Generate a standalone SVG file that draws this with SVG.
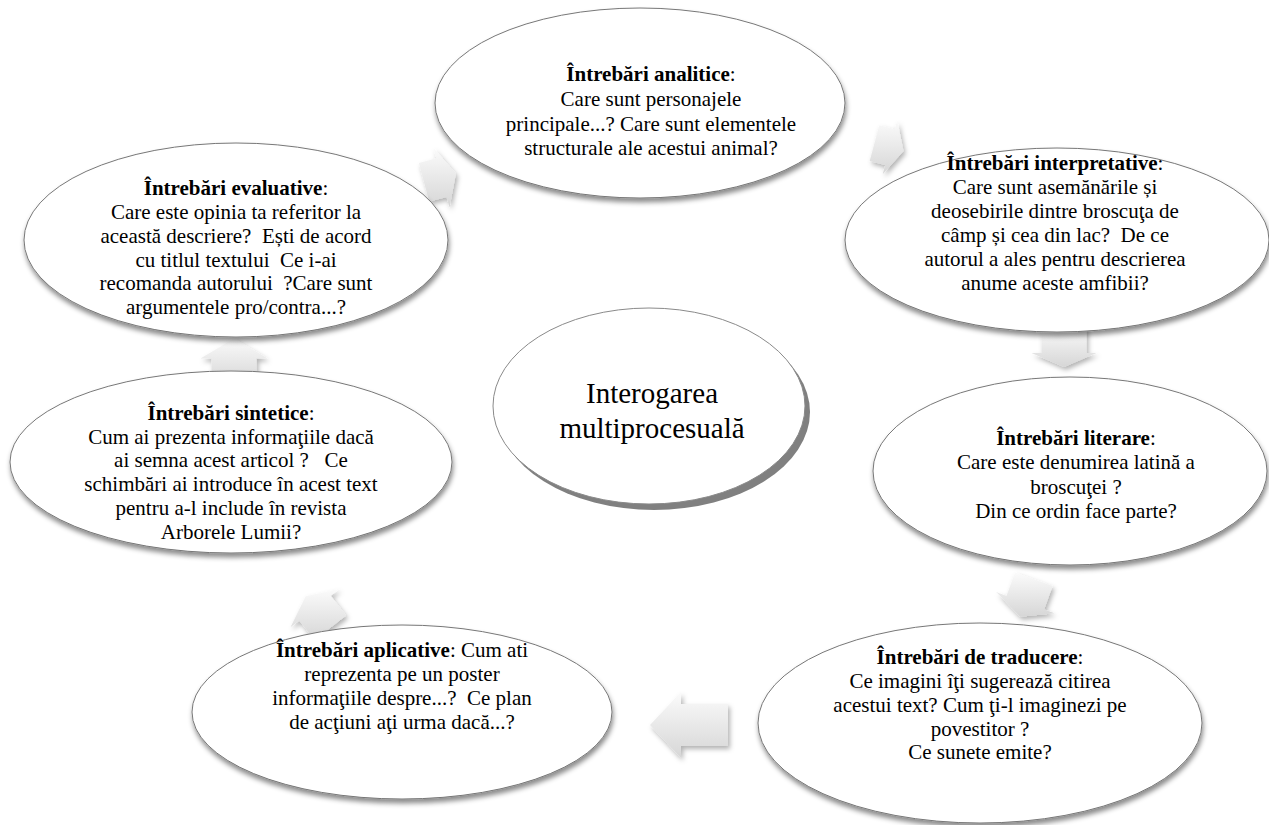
<svg xmlns="http://www.w3.org/2000/svg" width="1269" height="825" viewBox="0 0 1269 825">
<defs>
  <linearGradient id="arrowGrad" x1="0" y1="0" x2="0" y2="1">
    <stop offset="0" stop-color="#fbfbfb"/>
    <stop offset="1" stop-color="#d6d6d6"/>
  </linearGradient>
  <filter id="nodeShadow" x="-10%" y="-10%" width="120%" height="130%">
    <feDropShadow dx="1" dy="4" stdDeviation="2.5" flood-color="#000" flood-opacity="0.45"/>
  </filter>
  <filter id="arrowShadow" x="-30%" y="-30%" width="160%" height="160%">
    <feDropShadow dx="2" dy="3" stdDeviation="2.5" flood-color="#000" flood-opacity="0.3"/>
  </filter>
</defs>
<style>
  .node { fill: #ffffff; stroke: #777777; stroke-width: 1; filter: url(#nodeShadow); }
  .center { fill: #ffffff; stroke: #8a8a8a; stroke-width: 1; }
  .centerShadow { fill: #808080; }
  .arrow { fill: url(#arrowGrad); filter: url(#arrowShadow); }
  .t { font-size: 21px; fill: #000; text-anchor: middle; white-space: pre; }
  .b { font-weight: bold; }
  .big { font-size: 29px; }
</style>
<rect width="1269" height="825" fill="#ffffff"/>

<g id="connectors">
  <polygon class="arrow" points="418.9,163.0 436.3,158.3 433.4,147.7 455.9,173.7 449.5,207.6 446.6,196.9 429.2,201.6"/>
  <polygon class="arrow" points="879.3,125.3 894.8,129.4 897.2,120.2 903.5,150.9 882.7,174.3 885.2,165.1 869.7,161.0"/>
  <polygon class="arrow" points="1086.5,327 1086.5,353 1096.5,353 1064,367 1031.5,353 1041.5,353 1041.5,327"/>
  <polygon class="arrow" points="1052.6,586.1 1044.1,609.5 1054.4,613.3 1020.2,616.8 996.2,592.1 1006.5,595.9 1015.1,572.4"/>
  <polygon class="arrow" points="728,746 681,746 681,758 650,725 681,692 681,704 728,704"/>
  <polygon class="arrow" points="314.6,640.1 299.2,620.4 290.5,627.2 305.7,596.2 339.4,589.0 330.7,595.8 346.1,615.5"/>
  <polygon class="arrow" points="211.5,383.5 211.5,358.5 200.5,358.5 234,338.5 267.5,358.5 256.5,358.5 256.5,383.5"/>
</g>

<g font-family="'Liberation Serif', 'DejaVu Serif', serif">
<g id="node-analitice">
  <ellipse class="node" cx="640" cy="103" rx="205" ry="95"/>
  <text class="t" x="651" y="81"><tspan class="b">Întrebări analitice</tspan>:</text>
  <text class="t" x="651" y="106">Care sunt personajele</text>
  <text class="t" x="651" y="131">principale...? Care sunt elementele</text>
  <text class="t" x="651" y="155">structurale ale acestui animal?</text>
</g>

<g id="node-evaluative">
  <ellipse class="node" cx="236" cy="240" rx="212" ry="97"/>
  <text class="t" x="236" y="195"><tspan class="b">Întrebări evaluative</tspan>:</text>
  <text class="t" x="236" y="219">Care este opinia ta referitor la</text>
  <text class="t" x="236" y="243">această descriere?  Ești de acord</text>
  <text class="t" x="236" y="267">cu titlul textului  Ce i-ai</text>
  <text class="t" x="236" y="290">recomanda autorului  ?Care sunt</text>
  <text class="t" x="236" y="314">argumentele pro/contra...?</text>
</g>

<g id="node-interpretative">
  <ellipse class="node" cx="1057" cy="240" rx="212" ry="92"/>
  <text class="t" x="1055" y="170"><tspan class="b">Întrebări interpretative</tspan>:</text>
  <text class="t" x="1055" y="194">Care sunt asemănările și</text>
  <text class="t" x="1055" y="218">deosebirile dintre broscuţa de</text>
  <text class="t" x="1055" y="242">câmp și cea din lac?  De ce</text>
  <text class="t" x="1055" y="266">autorul a ales pentru descrierea</text>
  <text class="t" x="1055" y="290">anume aceste amfibii?</text>
</g>

<g id="node-center">
  <ellipse class="centerShadow" cx="654" cy="412" rx="156" ry="98"/>
  <ellipse class="center" cx="649" cy="406" rx="156" ry="98"/>
  <text class="t big" x="652" y="403">Interogarea</text>
  <text class="t big" x="652" y="438">multiprocesuală</text>
</g>

<g id="node-sintetice">
  <ellipse class="node" cx="231" cy="462" rx="221" ry="91"/>
  <text class="t" x="231" y="420"><tspan class="b">Întrebări sintetice</tspan>:</text>
  <text class="t" x="231" y="444">Cum ai prezenta informaţiile dacă</text>
  <text class="t" x="231" y="467">ai semna acest articol ?   Ce</text>
  <text class="t" x="231" y="491">schimbări ai introduce în acest text</text>
  <text class="t" x="231" y="515">pentru a-l include în revista</text>
  <text class="t" x="231" y="539">Arborele Lumii?</text>
</g>

<g id="node-literare">
  <ellipse class="node" cx="1070" cy="471" rx="197" ry="94"/>
  <text class="t" x="1076" y="445"><tspan class="b">Întrebări literare</tspan>:</text>
  <text class="t" x="1076" y="469">Care este denumirea latină a</text>
  <text class="t" x="1076" y="494">broscuţei ?</text>
  <text class="t" x="1076" y="518">Din ce ordin face parte?</text>
</g>

<g id="node-traducere">
  <ellipse class="node" cx="980" cy="723" rx="222" ry="100"/>
  <text class="t" x="980" y="664"><tspan class="b">Întrebări de traducere</tspan>:</text>
  <text class="t" x="980" y="688">Ce imagini îţi sugerează citirea</text>
  <text class="t" x="980" y="712">acestui text? Cum ţi-l imaginezi pe</text>
  <text class="t" x="980" y="736">povestitor ?</text>
  <text class="t" x="980" y="759">Ce sunete emite?</text>
</g>

<g id="node-aplicative">
  <ellipse class="node" cx="402" cy="712" rx="210" ry="87"/>
  <text class="t" x="402" y="657"><tspan class="b">Întrebări aplicative</tspan>: Cum ati</text>
  <text class="t" x="402" y="681">reprezenta pe un poster</text>
  <text class="t" x="402" y="705">informaţiile despre...?  Ce plan</text>
  <text class="t" x="402" y="729">de acţiuni aţi urma dacă...?</text>
</g>
</g>
</svg>
